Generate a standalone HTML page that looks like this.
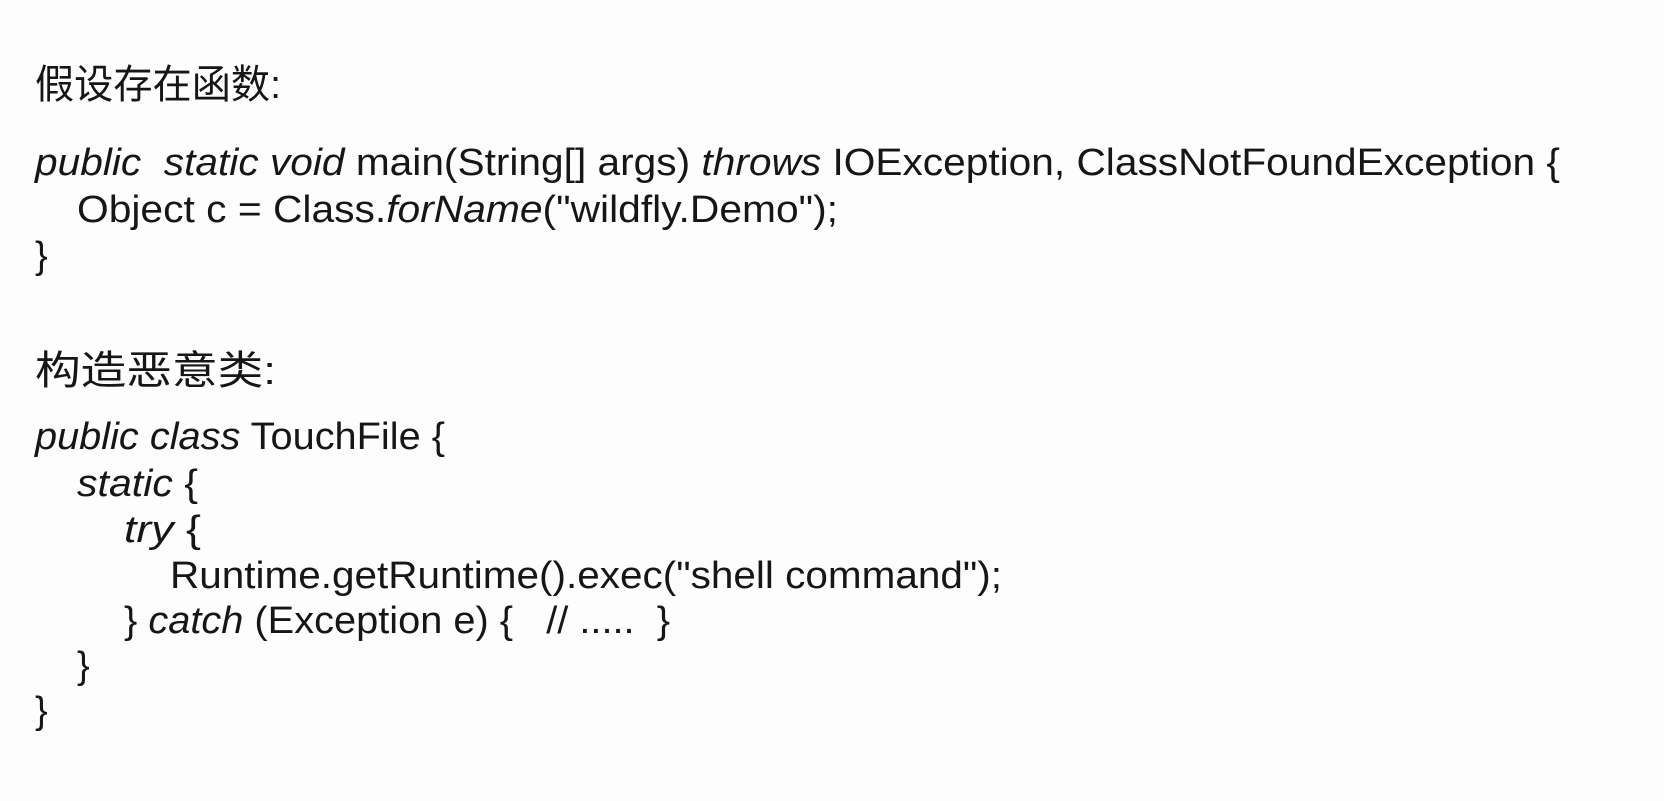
<!DOCTYPE html>
<html><head><meta charset="utf-8"><style>
html,body{margin:0;padding:0;background:#fdfdfd;}
svg{display:block}
text{font-family:"Liberation Sans","Noto Sans CJK SC",sans-serif;font-size:38px;fill:#161616;white-space:pre;}
.c{font-size:40px}
.i{font-style:italic}
</style></head><body>
<svg width="1664" height="801" viewBox="0 0 1664 801">
<rect width="1664" height="801" fill="#fdfdfd"/>
<text class="c" x="35" y="98" textLength="246" lengthAdjust="spacingAndGlyphs">假设存在函数:</text>
<text x="35" y="175" textLength="1525" lengthAdjust="spacingAndGlyphs"><tspan class="i">public  static void</tspan> main(String[] args) <tspan class="i">throws</tspan> IOException, ClassNotFoundException {</text>
<text x="77" y="222" textLength="761" lengthAdjust="spacingAndGlyphs">Object c = Class.<tspan class="i">forName</tspan>("wildfly.Demo");</text>
<text x="35" y="268">}</text>
<text class="c" x="35" y="384" textLength="241" lengthAdjust="spacingAndGlyphs">构造恶意类:</text>
<text x="35" y="449" textLength="410" lengthAdjust="spacingAndGlyphs"><tspan class="i">public class</tspan> TouchFile {</text>
<text x="77" y="496" textLength="121" lengthAdjust="spacingAndGlyphs"><tspan class="i">static</tspan> {</text>
<text x="124" y="542" textLength="77" lengthAdjust="spacingAndGlyphs"><tspan class="i">try</tspan> {</text>
<text x="170" y="588" textLength="832" lengthAdjust="spacingAndGlyphs">Runtime.getRuntime().exec("shell command");</text>
<text x="124" y="633" textLength="546" lengthAdjust="spacingAndGlyphs">} <tspan class="i">catch</tspan> (Exception e) {   // .....  }</text>
<text x="77" y="678">}</text>
<text x="35" y="723">}</text>
</svg>
</body></html>
